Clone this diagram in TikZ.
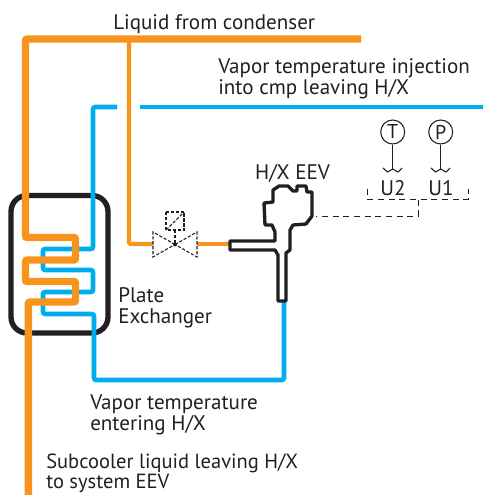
\documentclass[tikz,border=0pt]{standalone}
\usepackage{fontspec}
\setmainfont{PT Sans}
\definecolor{orangeline}{HTML}{F7941E}
\definecolor{blueline}{HTML}{00AEEF}
\definecolor{blackline}{HTML}{231F20}
\tikzset{
 lbl/.style={font=\fontsize{15.8pt}{15.4pt}\selectfont,text=blackline,align=left,inner sep=0pt,anchor=west},
 lblnarrow/.style={lbl,font=\fontsize{15.4pt}{14.6pt}\selectfont},
 orangethick/.style={draw=orangeline,line width=5.6pt,rounded corners=1.5pt},
 orangethin/.style={draw=orangeline,line width=3.2pt,rounded corners=1pt},
 bluepipe/.style={draw=blueline,line width=3.4pt,rounded corners=1.5pt},
 hxbox/.style={draw=blackline,line width=4pt,rounded corners=12pt},
 outline/.style={draw=blackline,line width=2.5pt,line join=round,fill=white},
 thinblack/.style={draw=blackline,line width=0.8pt},
 dashblack/.style={draw=blackline,line width=0.7pt,dash pattern=on 4.5pt off 3.5pt},
 dashvalve/.style={draw=blackline,line width=0.8pt,dash pattern=on 2.4pt off 1.3pt},
 gauge/.style={circle,draw=blackline,line width=0.8pt,minimum size=18pt,inner sep=0pt,font=\fontsize{15pt}{15pt}\selectfont,text=blackline},
}
\begin{document}
\begin{tikzpicture}[x=0.75pt,y=-0.75pt]
\useasboundingbox (0,0) rectangle (483,495);
\coordinate (blueTopEnd) at (117,107);
\coordinate (blueRightA) at (140,107);
\coordinate (blueRightB) at (483,107);
\coordinate (orangeEnd) at (361,39);
% box
\draw[hxbox] (11,195.5) rectangle (108,333);
% blue
\draw[bluepipe] (blueTopEnd) -| (93,249) -| (43,270) -| (93,292) -| (43,314) -| (94,380) -| (284,300);
\draw[bluepipe] (blueRightA) -- (blueRightB);
% orange
\draw[orangethin] (129,39) |- (153,244);
\draw[orangethick] (orangeEnd) -| (25.5,237.5) -| (75.5,260) -| (25.5,281.5) -| (75.5,302) -| (28.3,495);
\draw[orangethin] (197,244) -- (232,244);
% valve
\draw[dashvalve] (175,244.5) -- (153,232) -- (153,257) -- cycle;
\draw[dashvalve] (175,244.5) -- (197,232) -- (197,257) -- cycle;
\fill[blackline] (175,244.5) circle (1.5pt);
\draw[dashvalve] (166,212) rectangle (184,230);
\draw[dashvalve] (166,230) -- (184,212);
\draw[dashvalve] (175,230) -- (175,244.5);
% EEV
\draw[outline] (230,241) -- (275,241) -- (275,232) -- (272,225) -- (265,225) -- (264,203) -- (273,202) -- (273,190) -- (279,186) -- (288,186) -- (293,191) -- (297,191) -- (297,186) -- (306,186) -- (307,192) -- (312,192) -- (312,216) -- (306,224) -- (293,225) -- (290,230) -- (290,250) -- (286,253) -- (286,301) -- (278,301) -- (278,255) -- (275,250) -- (230,250) -- cycle;
% sensors
\node[gauge] (T) at (392.7,132) {T};
\node[gauge] (P) at (440.7,132) {P};
\coordinate (Tend) at (392.7,170);
\coordinate (Pend) at (440.7,170);
\draw[thinblack] (T) -- (Tend);
\draw[thinblack] (P) -- (Pend);
\draw[thinblack] (383,168) -- (387.5,172) -- (392.7,169) -- (398,172) -- (402,168);
\draw[thinblack] (431,168) -- (435.5,172) -- (440.7,169) -- (446,172) -- (450,168);
\draw[dashblack] (367,189) -- (367,199.5) -- (468,199.5) -- (468,189);
\draw[dashblack] (418,199.5) -- (418,216) -- (316,216);
% labels
\node[lbl] (l1) at (113,24) {Liquid from condenser};
\node[lbl] (l2) at (218,79) {Vapor temperature injection\\into cmp leaving H/X};
\node[lbl,anchor=center] (l3) at (292.5,173) {H/X EEV};
\node[lbl,anchor=center] (u2) at (393,188) {U2};
\node[lbl,anchor=center] (u1) at (441,188) {U1};
\node[lbl] (l4) at (118,308) {Plate\\Exchanger};
\node[lbl] (l5) at (90,415) {Vapor temperature\\entering H/X};
\node[lblnarrow] (l6) at (46,473.5) {Subcooler liquid leaving H/X\\to system EEV};
\end{tikzpicture}
\end{document}
